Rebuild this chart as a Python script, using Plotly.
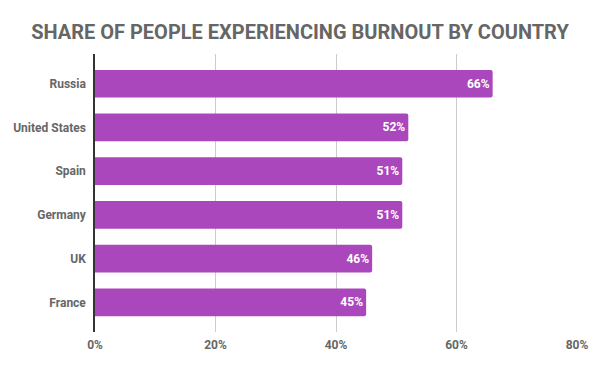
import plotly.graph_objects as go

countries = ["Russia", "United States", "Spain", "Germany", "UK", "France"]
shares = [66, 52, 51, 51, 46, 45]
x_ticks = [0, 20, 40, 60, 80]
x_tick_labels = ["0%", "20%", "40%", "60%", "80%"]

ys = countries[::-1]
xs = shares[::-1]

fig = go.Figure(go.Bar(
    x=xs, y=ys, orientation="h",
    marker=dict(color="#AB47BC", cornerradius=2, line=dict(width=0)),
    text=[f"{v}%" for v in xs],
    textposition="inside", insidetextanchor="end",
    textfont=dict(family="Roboto", size=12, color="white", weight="bold"),
    cliponaxis=False,
))

fig.update_layout(
    width=600, height=371,
    margin=dict(l=95, r=19, t=54, b=39),
    plot_bgcolor="white", paper_bgcolor="white",
    bargap=0.366,
    showlegend=False,
    title=dict(text="<b>SHARE OF PEOPLE EXPERIENCING BURNOUT BY COUNTRY</b>",
               x=0.5, xanchor="center", y=0.915, yanchor="middle",
               font=dict(family="Roboto", size=20, color="#666666")),
    uniformtext=dict(minsize=8, mode="show"),
)
fig.update_xaxes(range=[0, 80], tickvals=x_ticks, ticktext=x_tick_labels,
                 showgrid=True, gridcolor="#cccccc", gridwidth=1,
                 zeroline=False, showline=False, ticks="", ticklabelstandoff=4,
                 tickfont=dict(family="Roboto", size=12, color="#666666", weight="bold"),
                 fixedrange=True)
fig.update_yaxes(range=[-0.675, 5.68], showgrid=False, zeroline=False,
                 showline=True, linecolor="#333333", linewidth=1.5,
                 ticks="", ticklabelstandoff=5,
                 tickfont=dict(family="Roboto", size=12, color="#666666", weight="bold"))

fig.write_html("out.html", config={"displayModeBar": False},
               post_script="document.body.style.margin='0';document.body.style.overflow='hidden';")
